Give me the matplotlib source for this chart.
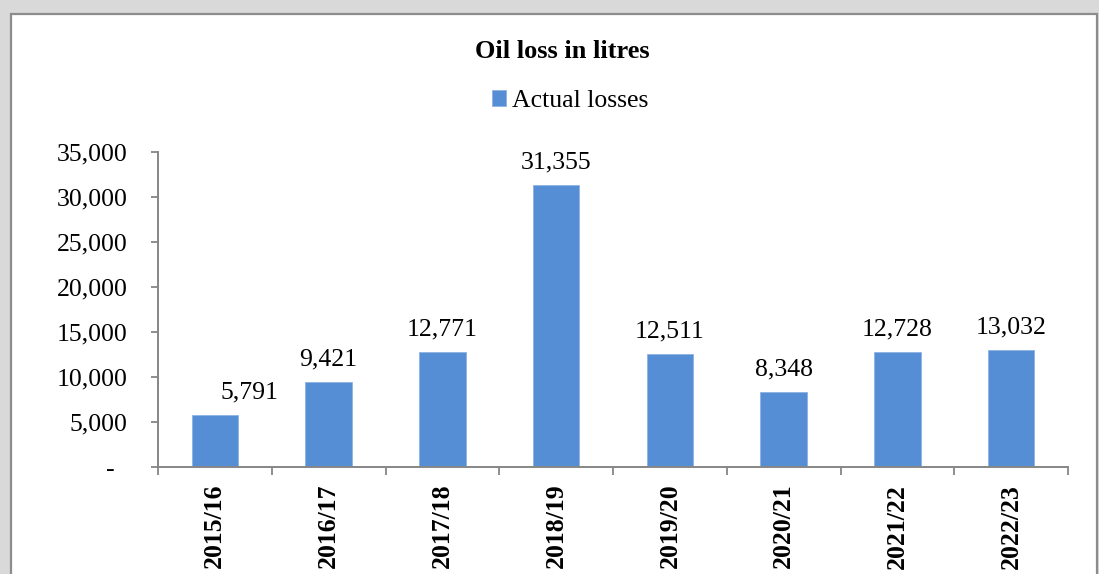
import matplotlib.pyplot as plt
from matplotlib.patches import Rectangle

# Data
years = ['2015/16', '2016/17', '2017/18', '2018/19', '2019/20', '2020/21', '2021/22', '2022/23']
losses = [5791, 9421, 12771, 31355, 12511, 8348, 12728, 13032]
ytick_values = [0, 5000, 10000, 15000, 20000, 25000, 30000, 35000]
ytick_labels = ['-  ', '5,000', '10,000', '15,000', '20,000', '25,000', '30,000', '35,000']

plt.rcParams['font.family'] = ['Liberation Serif', 'DejaVu Serif']

fig = plt.figure(figsize=(10.99, 5.74), dpi=100, facecolor='#d9d9d9')

# White chart area with grey border
fig.patches.append(Rectangle((11 / 1099, -0.05), 1086 / 1099, 1.05 - 14 / 574,
                             transform=fig.transFigure, facecolor='white',
                             edgecolor='#8c8c8c', linewidth=1.6, zorder=-5))

ax = fig.add_axes([158 / 1099, 107 / 574, 910 / 1099, 315 / 574])
ax.set_facecolor('none')
ax.set_zorder(2)

x = list(range(len(years)))
bars = ax.bar(x, losses, width=0.41, color='#558ed5', edgecolor='#8db3e2',
              linewidth=0.6, label='Actual losses', zorder=2)

# value labels (first one is nudged right as in the original)
x_offsets = [25, 0, 0, 0, 0, 0, 0, 0]
for xi, v, dx in zip(x, losses, x_offsets):
    ax.annotate(f'{v:,}', (xi, v), xytext=(dx, 12), textcoords='offset points',
                ha='center', va='baseline', fontsize=18.5)

ax.set_xlim(-0.5, len(years) - 0.5)
ax.set_ylim(0, 35000)
ax.set_yticks(ytick_values)
ax.set_yticklabels(ytick_labels, fontsize=18.5)
ax.set_xticks(x)
ax.set_xticklabels(years, rotation=90, fontsize=18.5, fontweight='bold')
ax.set_xticks([i - 0.5 for i in range(len(years) + 1)], minor=True)

ax.tick_params(axis='x', which='major', length=0, pad=12)
ax.tick_params(axis='x', which='minor', length=6, width=1.3, color='#868686', direction='out')
ax.tick_params(axis='y', length=5, width=1.3, color='#868686', pad=17)

for side in ['top', 'right']:
    ax.spines[side].set_visible(False)
for side in ['left', 'bottom']:
    ax.spines[side].set_color('#868686')
    ax.spines[side].set_linewidth(1.4)

fig.text(562 / 1099, 1 - 52 / 574, 'Oil loss in litres', ha='center', va='center',
         fontsize=19, fontweight='bold')

fig.legend(handles=[bars], labels=['Actual losses'], loc='center',
           bbox_to_anchor=(570 / 1099, 1 - 101 / 574), frameon=False,
           fontsize=18.5, handlelength=0.55, handleheight=0.55, handletextpad=0.25)

plt.savefig('out.png', dpi=100, facecolor=fig.get_facecolor())
